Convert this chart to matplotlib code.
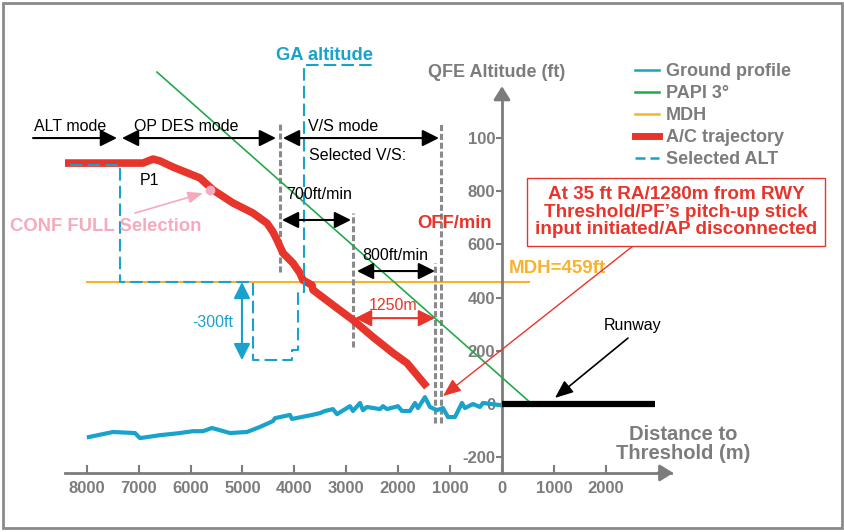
import matplotlib
matplotlib.use("Agg")
import matplotlib.pyplot as plt
from matplotlib.patches import Rectangle
from matplotlib.lines import Line2D

# ===== データ（距離 m：滑走路手前が正、高度 ft） =====
ground_d = [7960, 7495, 7071, 6975, 6590, 6204, 5954, 5761, 5588, 5241, 4913,
            4663, 4412, 4374, 4085, 4046, 3661, 3507, 3410, 3256, 3179, 2929,
            2871, 2736, 2678, 2601, 2351, 2293, 2216, 2004, 1927, 1773, 1676,
            1618, 1484, 1387, 1252, 1137, 1040, 906, 771, 713, 559, 424, 366, 39]
ground_h = [-124, -105, -109, -128, -117, -109, -102, -102, -90, -109, -105,
            -86, -64, -53, -41, -56, -41, -34, -26, -19, -38, -8,
            -26, 4, -23, -11, -19, -8, -19, -8, -26, -26, 4,
            -15, 26, -11, -23, -15, -49, -49, 4, -15, 0, -11, 4, -4]

traj_d = [8420, 6917, 6724, 6590, 6339, 5819, 5568, 5183, 4798, 4528, 4412,
          4335, 4220, 4027, 3892, 3834, 3661, 3642, 3256, 2871, 2486, 2100,
          1830, 1445]
traj_h = [906, 906, 921, 914, 891, 850, 805, 756, 718, 680, 647,
          617, 568, 530, 492, 466, 447, 429, 372, 316, 252, 192,
          154, 64]

papi_d = [6647, -578]
papi_h = [1248, 0]

MDH = 459
mdh_d = [8000, -520]

sel_alt_d = [8324, 7360, 7360, 4798, 4798, 4046, 4046, 3931, 3931, 3815, 3815, 2505]
sel_alt_h = [898, 898, 459, 459, 165, 165, 205, 205, 420, 420, 1274, 1274]

# モード境界の縦破線
vline_d = [4277, 2871, 1291, 1175]
vline_top = [1056, 718, 530, 1056]
vline_bot = [496, 214, -71, -71]

runway_d = [0, -2950]
runway_h = [0, 0]

xticks = [8000, 7000, 6000, 5000, 4000, 3000, 2000, 1000, 0, -1000, -2000]
xtick_labels = ["8000", "7000", "6000", "5000", "4000", "3000", "2000", "1000",
                "0", "1000", "2000"]
yticks = [-200, 0, 200, 400, 600, 800, 1000]
ytick_labels = ["-200", "0", "200", "400", "600", "800", "100"]

# ===== 色・フォント =====
BLUE = "#18a2cc"
GREEN = "#23a84a"
ORANGE = "#f7b32b"
RED = "#e8352c"
PINK = "#f6aabd"
GRAY = "#7c7c7c"
BOLD = ["Liberation Sans", "DejaVu Sans"]
NARROW = ["Liberation Sans", "DejaVu Sans"]

fig = plt.figure(figsize=(8.44, 5.32), dpi=100)
ax = fig.add_axes([0, 0, 1, 1])
ax.set_xlim(9672, -6590)
ax.set_ylim(-481, 1519)
ax.patch.set_alpha(0)

# 軸（データ座標に配置）
X_AXIS_H = -259
for s in ["top", "right"]:
    ax.spines[s].set_visible(False)
ax.spines["left"].set_position(("data", 0))
ax.spines["left"].set_bounds(X_AXIS_H, 1180)
ax.spines["bottom"].set_position(("data", X_AXIS_H))
ax.spines["bottom"].set_bounds(-3250, 8420)
for s in ["left", "bottom"]:
    ax.spines[s].set_color(GRAY)
    ax.spines[s].set_linewidth(2)
ax.annotate("", xy=(0, 1195), xytext=(0, 1150),
            arrowprops=dict(arrowstyle="-|>,head_length=0.8,head_width=0.5",
                            color=GRAY, lw=2, shrinkA=0, shrinkB=0, mutation_scale=10))
ax.annotate("", xy=(-3300, X_AXIS_H), xytext=(-3000, X_AXIS_H),
            arrowprops=dict(arrowstyle="-|>,head_length=0.8,head_width=0.5",
                            color=GRAY, lw=2, shrinkA=0, shrinkB=0, mutation_scale=10))

ax.set_xticks(xticks)
ax.set_xticklabels(xtick_labels)
ax.set_yticks(yticks)
ax.set_yticklabels(ytick_labels)
ax.tick_params(axis="x", direction="in", length=6, width=1.5, color=GRAY, pad=6,
               labelcolor=GRAY, labelsize=12)
ax.tick_params(axis="y", direction="out", length=4, width=1.5, color=GRAY, pad=1,
               labelcolor=GRAY, labelsize=12)
for lab in ax.get_xticklabels() + ax.get_yticklabels():
    lab.set_family(BOLD)
    lab.set_fontweight("bold")

# ===== 線 =====
ax.plot(mdh_d, [MDH, MDH], color=ORANGE, lw=1.5, zorder=2)
ax.plot(papi_d, papi_h, color=GREEN, lw=1.2, zorder=3)
for d, t, b in zip(vline_d, vline_top, vline_bot):
    ax.plot([d, d], [b, t], color="#8a8a8a", lw=2.2, ls=(0, (2, 0.9)), zorder=2)
ax.plot(ground_d, ground_h, color=BLUE, lw=3, zorder=4, solid_joinstyle="round")
ax.plot(traj_d, traj_h, color=RED, lw=5.5, zorder=4, solid_capstyle="butt")
ax.plot(sel_alt_d, sel_alt_h, color=BLUE, lw=1.5, ls=(0, (6, 2.5)), zorder=5)
ax.plot(runway_d, runway_h, color="black", lw=4.5, zorder=5, solid_capstyle="butt")

# CONF FULL 点
ax.plot([5626], [805], "o", color=PINK, ms=6, zorder=6)


def darrow(x0, y0, x1, y1, color="black", style="<|-|>"):
    ax.annotate("", xy=(x1, y1), xytext=(x0, y0),
                arrowprops=dict(arrowstyle=style + ",head_length=1.0,head_width=0.5",
                                color=color, lw=1.5, shrinkA=0, shrinkB=0,
                                mutation_scale=10), zorder=6)


MODE_H = 1000
darrow(9036, MODE_H, 7418, MODE_H, style="-|>")
darrow(7322, MODE_H, 4355, MODE_H)
darrow(4220, MODE_H, 1214, MODE_H)
darrow(4239, 692, 2909, 692)
darrow(2794, 500, 1291, 500)
darrow(2832, 323, 1291, 323, color=RED)
darrow(5010, 459, 5010, 165, color=BLUE)

# ===== テキスト =====
def label(x, y, s, color="black", size=11.5, ha="left", family=NARROW, weight="normal"):
    ax.text(x, y, s, color=color, fontsize=size, ha=ha, va="center",
            family=family, fontweight=weight, zorder=7)


label(9017, 1045, "ALT mode")
label(7091, 1045, "OP DES mode")
label(3738, 1045, "V/S mode")
label(3719, 936, "Selected V/S:")
label(4162, 789, "700ft/min")
label(2697, 560, "800ft/min")
label(2563, 372, "1250m", color=RED)
label(5973, 305, "-300ft", color=BLUE)
label(6975, 842, "P1")
label(-2524, 297, "Runway", ha="center")
label(193, 677, "OFF/min", color=RED, size=13.3, ha="right", family=BOLD, weight="bold")
label(9480, 669, "CONF FULL Selection", color=PINK, size=13.3, family=BOLD, weight="bold")
label(4355, 1312, "GA altitude", color=BLUE, size=13.2, family=BOLD, weight="bold")
label(96, 1248, "QFE Altitude (ft)", color=GRAY, size=13, ha="center", family=BOLD, weight="bold")
label(-135, 511, "MDH=459ft", color=ORANGE, size=13.5, family=BOLD, weight="bold")
ax.text(-3487, -150, "Distance to\nThreshold (m)", color=GRAY, fontsize=14.5,
        ha="center", va="center", family=BOLD, fontweight="bold", linespacing=1.05)

# 矢印注記
ax.annotate("", xy=(5761, 793), xytext=(7071, 718),
            arrowprops=dict(arrowstyle="-|>,head_length=0.9,head_width=0.35",
                            color=PINK, lw=1.2, shrinkA=0, shrinkB=0, mutation_scale=10))
ax.annotate("", xy=(-1021, 23), xytext=(-2428, 248),
            arrowprops=dict(arrowstyle="-|>,head_length=1.1,head_width=0.45",
                            color="black", lw=1.2, shrinkA=0, shrinkB=0, mutation_scale=10))
ax.annotate("At 35 ft RA/1280m from RWY\nThreshold/PF\u2019s pitch-up stick\n"
            "input initiated/AP disconnected",
            xy=(1137, 30), xytext=(-3353, 722), color=RED, fontsize=13.6,
            fontweight="bold", family=BOLD, ha="center", va="center",
            linespacing=1.05,
            bbox=dict(boxstyle="square,pad=0.42", fc="white", ec=RED, lw=1),
            arrowprops=dict(arrowstyle="-|>,head_length=1.1,head_width=0.45",
                            color=RED, lw=1, shrinkA=0, shrinkB=0, mutation_scale=10),
            zorder=7)

# 凡例
handles = [
    Line2D([], [], color=BLUE, lw=1.8),
    Line2D([], [], color=GREEN, lw=1.8),
    Line2D([], [], color=ORANGE, lw=1.8),
    Line2D([], [], color=RED, lw=5),
    Line2D([], [], color=BLUE, lw=1.8, ls=(0, (4, 2))),
]
names = ["Ground profile", "PAPI 3\u00b0", "MDH", "A/C trajectory", "Selected ALT"]
leg = ax.legend(handles, names, loc="upper left", bbox_to_anchor=(635 / 844, 1 - 63 / 532),
                bbox_transform=fig.transFigure, frameon=False, borderpad=0,
                borderaxespad=0, handlelength=1.33, handletextpad=0.4,
                labelspacing=0.28, prop=dict(family=BOLD, weight="bold", size=13))
for t in leg.get_texts():
    t.set_color(GRAY)

# 外枠
fig.patches.append(Rectangle((2.5 / 844, 4 / 532), 839 / 844, 525 / 532,
                             transform=fig.transFigure, fill=False,
                             ec="#8a8a8a", lw=2))

fig.savefig("out.png", dpi=100, facecolor="white")
